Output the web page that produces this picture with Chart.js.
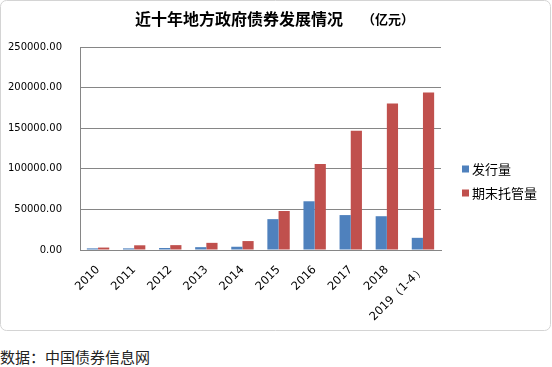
<!DOCTYPE html>
<html>
<head>
<meta charset="utf-8">
<script src="https://cdn.jsdelivr.net/npm/chart.js@4.4.1/dist/chart.umd.min.js"></script>
<style>
  body { margin: 0; background: #fff; }
  #wrap { position: absolute; left: 0; top: 0; width: 552px; height: 332px; }
  #source { position: absolute; left: 0; top: 346px; font: 15px "Noto Sans CJK SC", sans-serif; color: #222; }
</style>
</head>
<body>
<div id="wrap"><canvas id="chart" width="552" height="332"></canvas></div>
<div id="source">数据：中国债券信息网</div>
<script>
// 数据
const years = ['2010', '2011', '2012', '2013', '2014', '2015', '2016', '2017', '2018', '2019（1-4）'];
const issued = [2000, 2000, 2500, 3500, 4000, 38000, 60000, 43000, 41600, 15000];
const custody = [3000, 5800, 6000, 8800, 11000, 48000, 106000, 147000, 180500, 194000];
const yTicks = [0, 50000, 100000, 150000, 200000, 250000];

const blue = '#4F81BD';
const red = '#C0504D';
const axisGray = '#868686';

// 标题、图例和外框
const decor = {
    id: 'decor',
    afterDraw(chart) {
        const c = chart.ctx;
        c.save();
        // 外框
        c.strokeStyle = '#d4d4d4';
        c.lineWidth = 1;
        c.beginPath();
        c.roundRect(0.5, 0.5, 550, 330, 6);
        c.stroke();
        // 标题
        c.fillStyle = '#000';
        c.textBaseline = 'middle';
        c.font = 'bold 16px "Noto Sans CJK SC"';
        c.fillText('近十年地方政府债券发展情况', 135, 19);
        c.font = 'bold 13px "Noto Sans CJK SC"';
        c.fillText('（亿元）', 362, 19);
        // 图例
        const items = [[blue, '发行量', 169], [red, '期末托管量', 193]];
        c.font = '13px "Noto Sans CJK SC"';
        items.forEach(([col, txt, y]) => {
            c.fillStyle = col;
            c.fillRect(462, y - 3.5, 7, 7);
            c.fillStyle = '#000';
            c.fillText(txt, 472, y);
        });
        c.restore();
    }
};

new Chart(document.getElementById('chart'), {
    type: 'bar',
    data: {
        labels: years,
        datasets: [
            { label: '发行量', data: issued, backgroundColor: blue },
            { label: '期末托管量', data: custody, backgroundColor: red }
        ]
    },
    options: {
        responsive: false,
        animation: false,
        layout: { padding: { top: 47, right: 111, left: 0, bottom: 0 } },
        plugins: { legend: { display: false }, tooltip: { enabled: false } },
        datasets: { bar: { categoryPercentage: 0.62, barPercentage: 1.0 } },
        scales: {
            x: {
                grid: { display: false },
                border: { color: axisGray },
                ticks: {
                    autoSkip: false, maxRotation: 45, minRotation: 45, padding: 5,
                    color: '#000', font: { family: 'DejaVu Sans', size: 11.5 }
                },
                afterFit(scale) { scale.height = 82; }
            },
            y: {
                min: 0, max: 250000,
                afterBuildTicks(scale) { scale.ticks = yTicks.map(v => ({ value: v })); },
                grid: { color: axisGray, drawTicks: false },
                border: { color: axisGray },
                ticks: {
                    padding: 18, color: '#000', font: { family: 'DejaVu Sans', size: 10 },
                    callback: v => v.toFixed(2)
                },
                afterFit(scale) { scale.width = 80; }
            }
        }
    },
    plugins: [decor]
});
</script>
</body>
</html>
